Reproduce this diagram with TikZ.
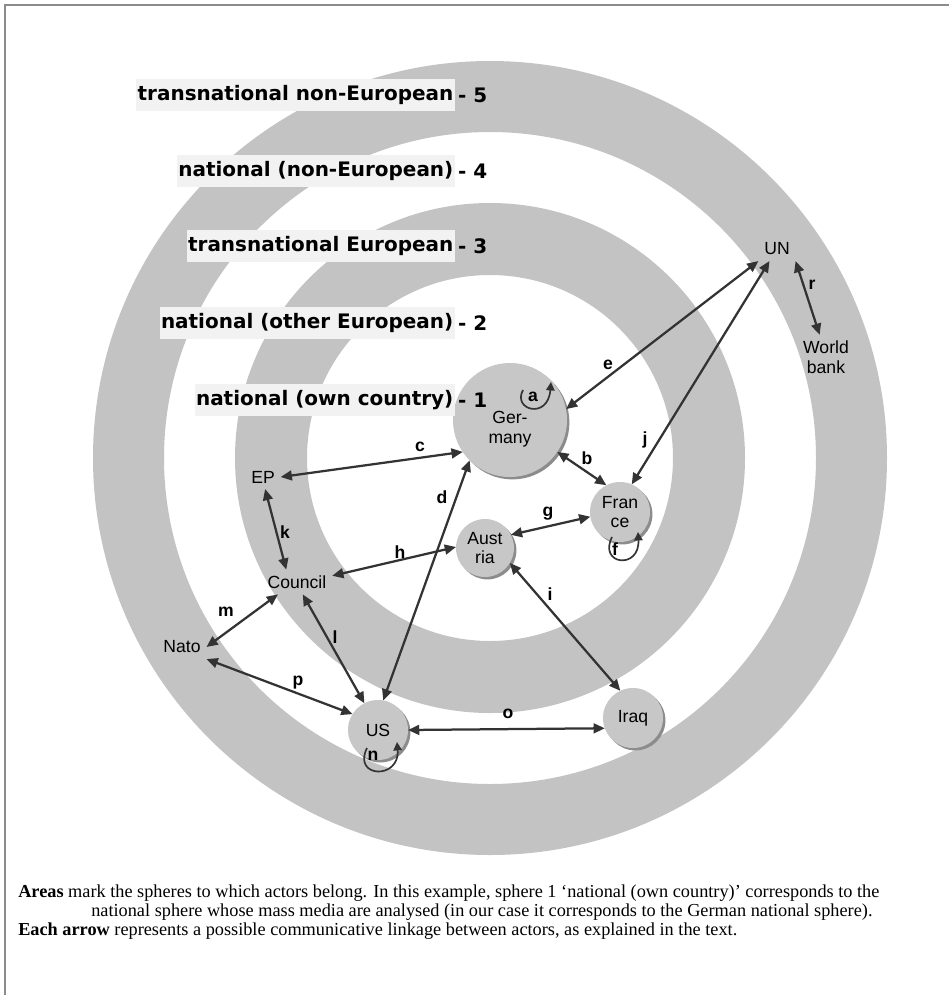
\documentclass[tikz,border=0pt]{standalone}
\usepackage{fontspec}
\setmainfont{Liberation Serif}
\setsansfont{Liberation Sans}
\newfontfamily\spherefont{DejaVu Sans}
\usetikzlibrary{arrows.meta,shadows}
\definecolor{ringgray}{HTML}{C3C3C3}
\definecolor{actorgray}{HTML}{C7C7C7}
\definecolor{labelbg}{HTML}{F2F2F2}
\definecolor{linkgray}{HTML}{333333}

\begin{document}
\begin{tikzpicture}[x=0.025cm, y=-0.025cm,
    actor/.style={circle, fill=actorgray, inner sep=0pt, outer sep=0pt, align=center, font=\sffamily\fontsize{12.5}{14}\selectfont, drop shadow={shadow xshift=0.06cm, shadow yshift=-0.06cm, fill=black!45, opacity=1}},
    body/.style={inner sep=4pt, align=center, font=\sffamily\fontsize{12.5}{14}\selectfont},
    sphere/.style={anchor=east, fill=labelbg, inner sep=1pt, minimum height=0.82cm, font=\spherefont\bfseries\fontsize{14.2}{16}\selectfont},
    level/.style={anchor=west, inner sep=2pt, font=\spherefont\bfseries\fontsize{14.2}{16}\selectfont},
    link/.style={{Triangle[length=8pt,width=7pt]}-{Triangle[length=8pt,width=7pt]}, draw=linkgray, line width=1.6pt},
    self/.style={-{Triangle[length=6pt,width=6pt]}, draw=linkgray, line width=1.2pt},
    tag/.style={inner sep=1pt, font=\sffamily\bfseries\fontsize{12.5}{13}\selectfont},
    caption/.style={anchor=base west, inner sep=0pt, font=\rmfamily\fontsize{13}{15}\selectfont}
]
\useasboundingbox (0,0) rectangle (949,995);
\fill[white] (0,0) rectangle (949,995);
\draw[draw=black!45, line width=1.2pt] (5,995) -- (5,5) -- (949,5);

% spheres
\fill[ringgray, even odd rule] (490,458) circle[radius=397] (490,458) circle[radius=326]
    (490,458) circle[radius=255] (490,458) circle[radius=183];

% actors
\node[actor, minimum size=2.85cm] (de) at (510,420) {\rule{0pt}{22pt}Ger-\\many};
\node[actor, minimum size=1.5cm] (fr) at (620,512) {Fran\\ce};
\node[actor, minimum size=1.45cm] (au) at (485,548) {Aust\\ria};
\node[actor, minimum size=1.5cm] (us) at (378,730) {US};
\node[actor, minimum size=1.5cm] (iq) at (633,718) {Iraq};
\node[body] (ep) at (263,477) {EP};
\node[body] (council) at (297,582) {Council};
\node[body] (nato) at (182,647) {Nato};
\node[body] (un) at (777,249) {UN};
\node[body] (wb) at (826,357) {World\\bank};

\node[sphere] (s5) at (455,95) {transnational non-European};
\node[level] at (s5.east) {- 5};
\node[sphere] (s4) at (455,171) {national (non-European)};
\node[level] at (s4.east) {- 4};
\node[sphere] (s3) at (455,246) {transnational European};
\node[level] at (s3.east) {- 3};
\node[sphere] (s2) at (455,323) {national (other European)};
\node[level] at (s2.east) {- 2};
\node[sphere] (s1) at (455,400) {national (own country)};
\node[level] at (s1.east) {- 1};

% linkages
\draw[link] (ep.east) -- (de.214);
\draw[link] (de.-34) -- (fr.117);
\draw[link] (us.80) -- (de.225);
\draw[link] (de.11) -- (un.south west);
\draw[link] (un.-122) -- (fr.67);
\draw[link] (au.27) -- (fr.189);
\draw[link] (council.10) -- (au.178);
\draw[link] (au.-31) -- (iq.115);
\draw[link] (ep.-80) -- (council.131);
\draw[link] (council.-65) -- (us.117);
\draw[link] (nato.east) -- (council.213);
\draw[link] (nato.south east) -- (us.148);
\draw[link] (us.0) -- (iq.200);
\draw[link] (un.south east) -- (wb.106);

\coordinate (a1) at (523,390); \coordinate (a2) at (551,382);
\coordinate (f1) at (612,537); \coordinate (f2) at (638,532);
\coordinate (n1) at (367,748); \coordinate (n2) at (397,742);
\draw[self] (a1) .. controls (512,410) and (548,420) .. (a2);
\draw[self] (f1) .. controls (598,565) and (640,570) .. (f2);
\draw[self] (n1) .. controls (352,778) and (400,780) .. (n2);

\node[tag] (ta) at (533,397) {a};
\node[tag] (tb) at (587,458) {b};
\node[tag] (tc) at (420,447) {c};
\node[tag] (td) at (442,497) {d};
\node[tag] (te) at (608,365) {e};
\node[tag] (tf) at (615,549) {f};
\node[tag] (tg) at (548,514) {g};
\node[tag] (th) at (400,552) {h};
\node[tag] (ti) at (550,594) {i};
\node[tag] (tj) at (645,440) {j};
\node[tag] (tk) at (285,532) {k};
\node[tag] (tl) at (335,637) {l};
\node[tag] (tm) at (226,612) {m};
\node[tag] (tn) at (373,756) {n};
\node[tag] (to) at (508,714) {o};
\node[tag] (tp) at (298,683) {p};
\node[tag] (tr) at (812,285) {r};

% caption
\node[caption] (cap1) at (18,897) {\textbf{Areas} mark the spheres to which actors belong. In this example, sphere 1 ‘national (own country)’ corresponds to the};
\node[caption] (cap2) at (91,916) {national sphere whose mass media are analysed (in our case it corresponds to the German national sphere).};
\node[caption] (cap3) at (18,935) {\textbf{Each arrow} represents a possible communicative linkage between actors, as explained in the text.};

\end{tikzpicture}
\end{document}
